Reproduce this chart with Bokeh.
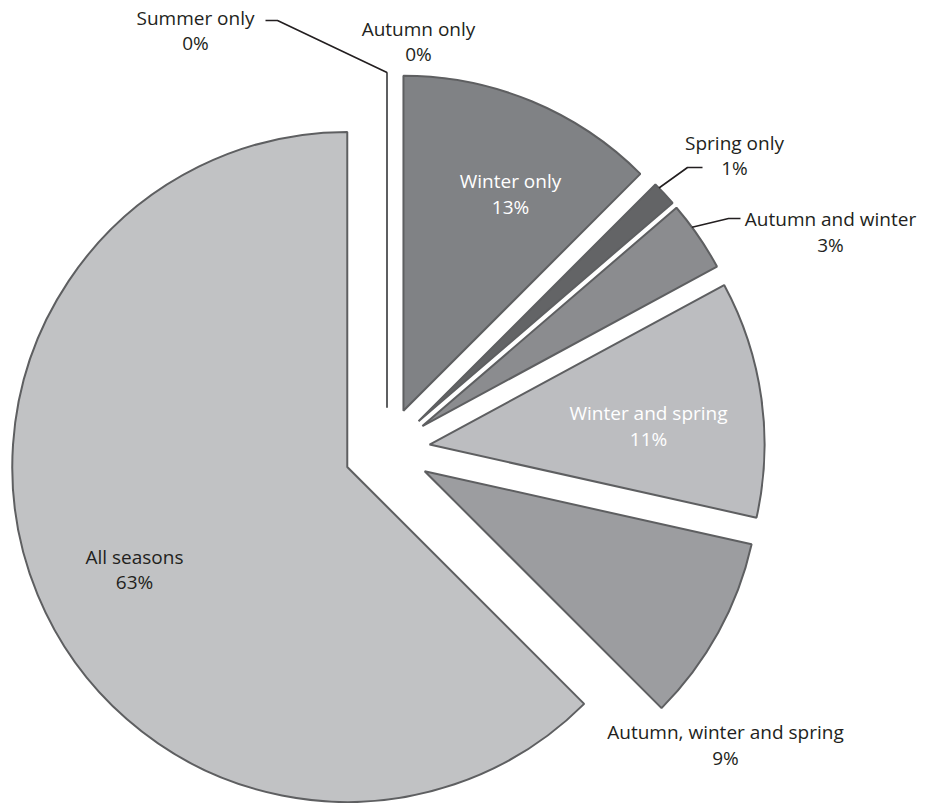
import numpy as np
from bokeh.plotting import figure
from bokeh.models import ColumnDataSource, Range1d
from bokeh.core.properties import value
from bokeh.embed import file_html
from bokeh.resources import INLINE

# ---------------- data ----------------
categories = ["Summer only", "Autumn only", "Winter only", "Spring only",
              "Autumn and winter", "Winter and spring",
              "Autumn, winter and spring", "All seasons"]
shares = [0.0, 0.0, 12.5, 1.2, 3.4, 11.4, 9.0, 62.5]
pct_labels = ["0%", "0%", "13%", "1%", "3%", "11%", "9%", "63%"]

# ---------------- styles / layout ----------------
W, H = 934, 803
fills = ["#c1c2c4", "#c1c2c4", "#808285", "#636466", "#8b8c8f",
         "#bcbdc0", "#9c9da0", "#c1c2c4"]
label_colors = ["#231f20", "#231f20", "#ffffff", "#231f20", "#231f20",
                "#ffffff", "#231f20", "#231f20"]
CX, CY_PIX = 386.5, 450.0
R = 335.0
EXPLODE = 43.0
# label anchors in page pixels: x, first line y, second line y
lab_x = [195, 418, 510, 734, 830, 648, 725, 134]
lab_y1 = [17, 28, 180, 142, 218, 412, 731, 556]
lab_y2 = [42, 53, 206, 167, 244, 438, 757, 581]
FONT = "Open Sans"
FSIZE = "19px"

CY = H - CY_PIX

vals = np.array(shares, dtype=float)
frac = vals / vals.sum()
theta_end = np.cumsum(frac) * 2 * np.pi          # clockwise from 12 o'clock
theta_start = theta_end - frac * 2 * np.pi
theta_mid = (theta_start + theta_end) / 2
wx = CX + EXPLODE * np.sin(theta_mid)
wy = CY + EXPLODE * np.cos(theta_mid)

p = figure(width=W, height=H, output_backend="svg", toolbar_location=None,
           x_range=Range1d(0, W), y_range=Range1d(0, H),
           x_axis_type=None, y_axis_type=None, min_border=0)
p.outline_line_color = None
p.grid.visible = False
p.background_fill_color = "white"
p.border_fill_color = "white"

nz = vals > 0
src = ColumnDataSource(dict(
    x=wx[nz], y=wy[nz],
    start=(np.pi / 2 - theta_end)[nz],
    end=(np.pi / 2 - theta_start)[nz],
    color=[c for c, k in zip(fills, nz) if k],
    cat=[c for c, k in zip(categories, nz) if k],
))
p.wedge(x="x", y="y", radius=R, start_angle="start", end_angle="end",
        direction="anticlock", fill_color="color", line_color="#5e5f61",
        line_width=2, source=src)

# zero-share slices are drawn as a single radial edge
zx0 = wx[~nz]
zy0 = wy[~nz]
zx1 = zx0 + R * np.sin(theta_mid[~nz])
zy1 = zy0 + R * np.cos(theta_mid[~nz])
p.segment(x0=zx0, y0=zy0, x1=zx1, y1=zy1, line_color="#5e5f61", line_width=2)

# leader lines (slice edge -> label)
def leader(i, elbow_pix, end_pix, frac_along=0.5):
    a = theta_start[i] + frac_along * (theta_end[i] - theta_start[i])
    sx = wx[i] + R * np.sin(a)
    sy = wy[i] + R * np.cos(a)
    xs = [sx, elbow_pix[0], end_pix[0]]
    ys = [sy, H - elbow_pix[1], H - end_pix[1]]
    p.line(xs, ys, line_color="#231f20", line_width=1.6)

leader(0, (277, 20), (265, 20))
leader(3, (687, 167), (702, 167), 0.2)
leader(4, (728, 218), (740, 218), 0.35)

lsrc = ColumnDataSource(dict(
    x=lab_x, y1=[H - v for v in lab_y1], y2=[H - v for v in lab_y2],
    name=categories, pct=pct_labels, color=label_colors))
for ycol, tcol in (("y1", "name"), ("y2", "pct")):
    p.text(x="x", y=ycol, text=tcol, text_color="color", source=lsrc,
           text_align="center", text_baseline="middle",
           text_font=value(FONT), text_font_size=FSIZE)

open("out.html", "w").write(file_html(p, INLINE))
